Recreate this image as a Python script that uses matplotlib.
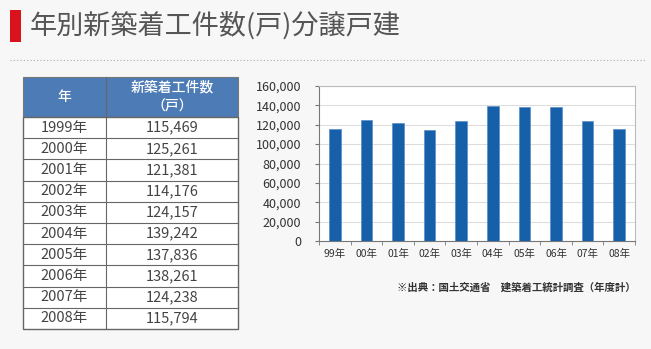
import numpy as np
import matplotlib.pyplot as plt
from matplotlib.patches import Rectangle

plt.rcParams['font.family'] = ['Noto Sans CJK JP', 'DejaVu Sans']

years = ['1999年', '2000年', '2001年', '2002年', '2003年',
         '2004年', '2005年', '2006年', '2007年', '2008年']
short_years = ['99年', '00年', '01年', '02年', '03年',
               '04年', '05年', '06年', '07年', '08年']
starts = [115469, 125261, 121381, 114176, 124157,
          139242, 137836, 138261, 124238, 115794]

title = '年別新築着工件数(戸)分譲戸建'
col_head = ['年', '新築着工件数\n（戸）']
source = '※出典：国土交通省　建築着工統計調査（年度計）'

W, H = 651, 349
bg = '#f7f7f7'
fig = plt.figure(figsize=(W / 100, H / 100), dpi=100, facecolor=bg)

# overlay in pixel coordinates for title and table
ov = fig.add_axes([0, 0, 1, 1])
ov.set_xlim(0, W)
ov.set_ylim(H, 0)
ov.axis('off')
ov.set_facecolor(bg)

ov.add_patch(Rectangle((10, 10), 11, 32, color='#d9121b', lw=0))
ov.text(30, 26, title, fontsize=19.5, color='#555555', va='center', ha='left')
ov.plot([10, 645], [60, 60], ls=(0, (1, 2)), color='#aaaaaa', lw=0.8)

# table
tx0, tx1, tx2 = 23, 106, 238
hy0, hy1 = 77, 117
rh = (329 - 117) / len(years)
ov.add_patch(Rectangle((tx0, hy0), tx2 - tx0, hy1 - hy0,
                       facecolor='#4d7bb5', edgecolor='#777777', lw=0.8))
ov.add_patch(Rectangle((tx0, hy1), tx2 - tx0, rh * len(years),
                       facecolor='white', edgecolor='#666666', lw=1.0))
ov.plot([tx1, tx1], [hy0, hy1 + rh * len(years)], color='#666666', lw=0.8)
ov.text((tx0 + tx1) / 2, (hy0 + hy1) / 2, col_head[0], color='white',
        fontsize=10, ha='center', va='center', fontweight='medium')
ov.text((tx1 + tx2) / 2, (hy0 + hy1) / 2, col_head[1], color='white',
        fontsize=10, ha='center', va='center', fontweight='medium',
        linespacing=1.45)
for i, (y, v) in enumerate(zip(years, starts)):
    top = hy1 + i * rh
    if i > 0:
        ov.plot([tx0, tx2], [top, top], color='#666666', lw=0.8)
    ov.text((tx0 + tx1) / 2, top + rh / 2, y, fontsize=10.5,
            ha='center', va='center', color='#444444')
    ov.text((tx1 + tx2) / 2, top + rh / 2, f'{v:,}', fontsize=10.5,
            ha='center', va='center', color='#444444')

# bar chart
ax = fig.add_axes([319 / W, 1 - 241 / H, (635 - 319) / W, (241 - 86) / H])
ax.set_facecolor('white')
x = np.arange(len(starts))
ax.bar(x, starts, width=0.37, color='#1560a8', edgecolor='#5b8fc8',
       lw=0.5, zorder=3)
ax.set_xlim(-0.5, len(starts) - 0.5)
ax.set_ylim(0, 160000)
ax.set_yticks(np.arange(0, 160001, 20000))
ax.set_yticklabels([f'{t:,}' for t in range(0, 160001, 20000)],
                   fontsize=9, color='#333333')
ax.yaxis.grid(True, color='#dddddd', lw=0.8, zorder=0)
ax.set_xticks(x)
ax.set_xticklabels(short_years, fontsize=7.5, color='#333333')
ax.tick_params(axis='x', length=0, pad=6)
ax.set_xticks(np.arange(-0.5, len(starts), 1), minor=True)
ax.tick_params(axis='x', which='minor', length=3, color='#777777')
ax.tick_params(axis='y', length=3, color='#777777', pad=10)
for s in ['top', 'right']:
    ax.spines[s].set_color('#bbbbbb')
for s in ['left', 'bottom']:
    ax.spines[s].set_color('#777777')

fig.text(636 / W, 1 - 287 / H, source, fontsize=7.5, ha='right',
         va='center', color='#333333', fontweight='bold')

fig.savefig('out.png', dpi=100, facecolor=bg)
